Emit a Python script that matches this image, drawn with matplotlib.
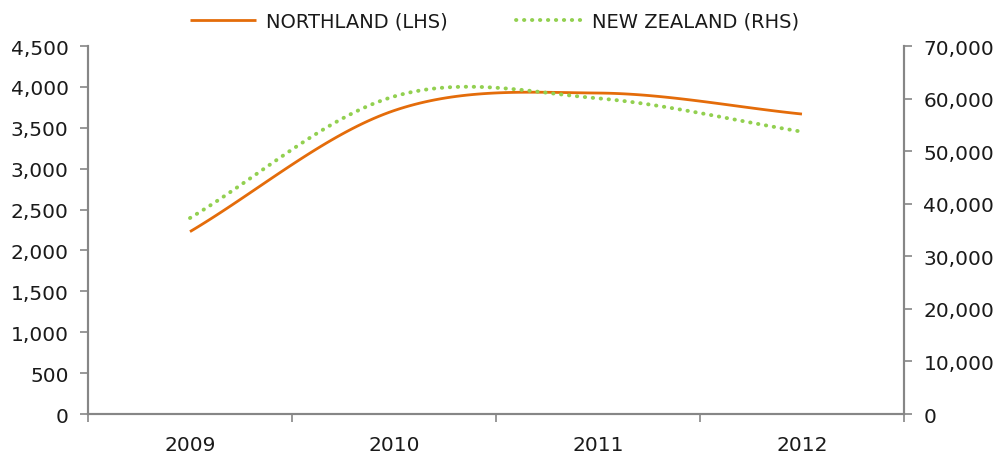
import numpy as np
import matplotlib
matplotlib.use("Agg")
import matplotlib.pyplot as plt
from matplotlib.ticker import FuncFormatter, MultipleLocator

plt.rcParams['font.family'] = ['DejaVu Sans']

# data
years = ['2009', '2010', '2011', '2012']
northland = [2230, 3710, 3925, 3668]        # left axis
new_zealand = [37280, 60400, 60050, 53700]  # right axis

ORANGE = '#E46C0A'
GREEN = '#92D050'
GREY = '#868686'


# smooth curve through the points, like Excel's "smoothed line"
def smooth(y, n=40):
    y = np.asarray(y, dtype=float)
    p = np.concatenate([[2 * y[0] - y[1]], y, [2 * y[-1] - y[-2]]])
    xs, ys = [], []
    for i in range(len(y) - 1):
        p0, p1, p2, p3 = p[i], p[i + 1], p[i + 2], p[i + 3]
        m1 = (p2 - p0) / 2
        m2 = (p3 - p1) / 2
        t = np.linspace(0, 1, n)
        h00 = 2 * t**3 - 3 * t**2 + 1
        h10 = t**3 - 2 * t**2 + t
        h01 = -2 * t**3 + 3 * t**2
        h11 = t**3 - t**2
        xs.append(i + t)
        ys.append(h00 * p1 + h10 * m1 + h01 * p2 + h11 * m2)
    return np.concatenate(xs), np.concatenate(ys)


fig = plt.figure(figsize=(10.08, 4.56), dpi=100)
ax = fig.add_axes([0.0873, 0.0899, 0.8095, 0.807])
ax2 = ax.twinx()

x1, y1 = smooth(northland)
x2, y2 = smooth(new_zealand)
l1, = ax.plot(x1, y1, color=ORANGE, lw=2, label='NORTHLAND (LHS)', solid_capstyle='butt')
l2, = ax2.plot(x2, y2, color=GREEN, lw=2.8, linestyle=(0, (0.1, 1.95)),
               dash_capstyle='round', label='NEW ZEALAND (RHS)')

ax.set_xlim(-0.5, 3.5)
ax.set_ylim(0, 4500)
ax2.set_ylim(0, 70000)
ax.yaxis.set_major_locator(MultipleLocator(500))
ax2.yaxis.set_major_locator(MultipleLocator(10000))
fmt = FuncFormatter(lambda v, p: f'{int(v):,}')
ax.yaxis.set_major_formatter(fmt)
ax2.yaxis.set_major_formatter(fmt)

ax.set_xticks(range(len(years)))
ax.set_xticklabels(years)
ax.set_xticks(np.arange(-0.5, len(years), 1), minor=True)
ax.tick_params(axis='x', which='major', length=0, pad=15)
ax.tick_params(axis='x', which='minor', length=6, color=GREY, width=1.2)
ax.tick_params(axis='y', length=6, color=GREY, width=1.2, pad=8)
ax2.tick_params(axis='y', length=6, color=GREY, width=1.2, pad=8)
for a in (ax, ax2):
    a.tick_params(labelsize=14.5, labelcolor='#1a1a1a')
    a.spines['top'].set_visible(False)
    for s in ('left', 'right', 'bottom'):
        a.spines[s].set_color(GREY)
        a.spines[s].set_linewidth(1.5)

leg = fig.legend(handles=[l1, l2], loc='upper center', bbox_to_anchor=(0.4906, 1.01), ncol=2,
                 frameon=False, fontsize=14, handlelength=3.4, columnspacing=3.5,
                 handletextpad=0.5)
for t in leg.get_texts():
    t.set_color('#1a1a1a')

fig.savefig('out.png', dpi=100)
